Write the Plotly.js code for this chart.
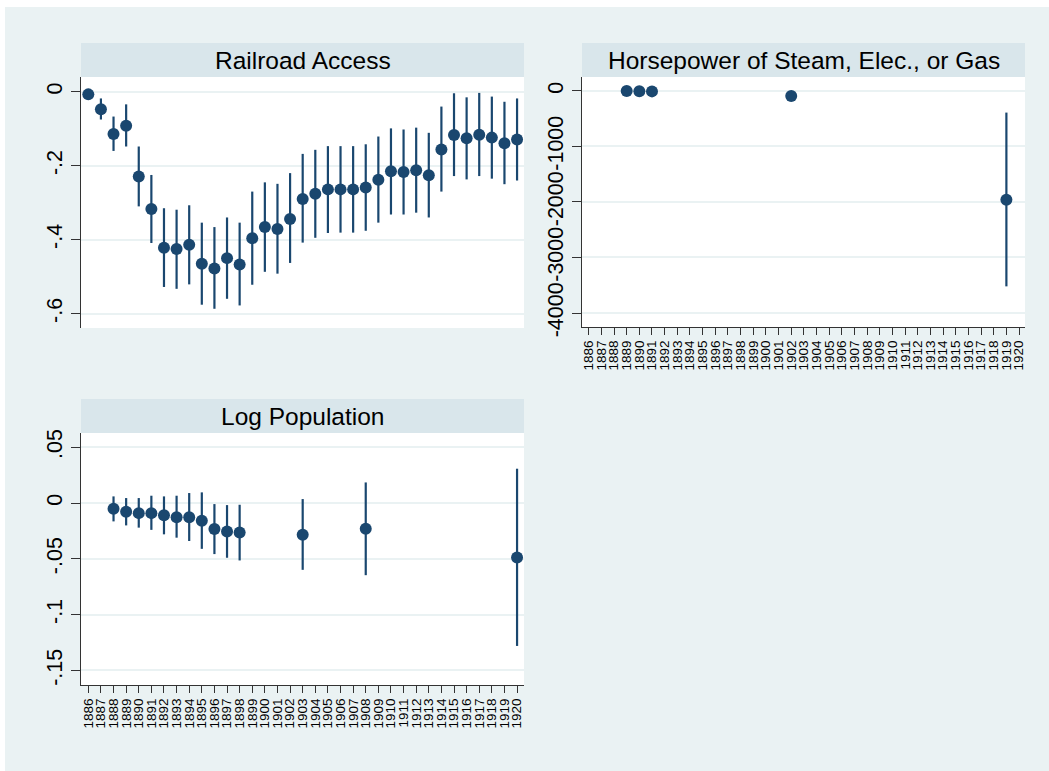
<!DOCTYPE html>
<html>
<head>
<meta charset="utf-8">
<script src="https://cdn.plot.ly/plotly-3.0.1.min.js"></script>
<style>
  html, body { margin: 0; padding: 0; background: #ffffff; }
  #chart { position: absolute; left: 5px; top: 7px; width: 1044px; height: 764px; }
</style>
</head>
<body>
<div id="chart"></div>
<script>
// ---- Data ----
const years = [1886,1887,1888,1889,1890,1891,1892,1893,1894,1895,1896,1897,1898,1899,1900,1901,1902,1903,1904,1905,1906,1907,1908,1909,1910,1911,1912,1913,1914,1915,1916,1917,1918,1919,1920];
const yearLabels = years.map(String);

// Railroad Access
const railYears = years;
const railCoef = [-0.007,-0.047,-0.114,-0.092,-0.229,-0.317,-0.422,-0.425,-0.414,-0.465,-0.478,-0.450,-0.467,-0.396,-0.366,-0.371,-0.344,-0.290,-0.276,-0.264,-0.264,-0.264,-0.259,-0.238,-0.215,-0.217,-0.212,-0.226,-0.156,-0.117,-0.126,-0.116,-0.124,-0.139,-0.129];
const railLo   = [-0.012,-0.075,-0.160,-0.148,-0.310,-0.409,-0.528,-0.533,-0.521,-0.576,-0.587,-0.560,-0.578,-0.522,-0.487,-0.492,-0.463,-0.408,-0.395,-0.382,-0.381,-0.381,-0.376,-0.354,-0.332,-0.332,-0.327,-0.340,-0.270,-0.228,-0.237,-0.228,-0.235,-0.250,-0.240];
const railHi   = [-0.002,-0.018,-0.067,-0.034,-0.148,-0.225,-0.315,-0.319,-0.307,-0.354,-0.366,-0.340,-0.354,-0.270,-0.245,-0.249,-0.220,-0.168,-0.157,-0.147,-0.147,-0.147,-0.142,-0.121,-0.099,-0.102,-0.097,-0.111,-0.040,-0.004,-0.015,-0.003,-0.013,-0.027,-0.018];

// Horsepower of Steam, Elec., or Gas
const hpYears = [1889,1890,1891,1902,1919];
const hpCoef  = [0, -5, -8, -90, -1961];
const hpLo    = [-25, -30, -33, -115, -3520];
const hpHi    = [25, 20, 17, -65, -390];

// Log Population
const popYears = [1888,1889,1890,1891,1892,1893,1894,1895,1896,1897,1898,1903,1908,1920];
const popCoef  = [-0.0051,-0.0078,-0.0090,-0.0090,-0.0110,-0.0126,-0.0126,-0.0158,-0.0233,-0.0254,-0.0263,-0.0284,-0.0230,-0.0487];
const popLo    = [-0.0164,-0.0200,-0.0220,-0.0240,-0.0280,-0.0310,-0.0340,-0.0410,-0.0457,-0.0490,-0.0514,-0.0598,-0.0646,-0.1280];
const popHi    = [0.0060,0.0045,0.0045,0.0066,0.0060,0.0066,0.0090,0.0096,-0.0009,-0.0018,-0.0015,0.0036,0.0185,0.0308];

// Tick labels
const railTickVals = [0,-0.2,-0.4,-0.6];
const railTickText = ['0','-.2','-.4','-.6'];
const hpTickVals = [0,-1000,-2000,-3000,-4000];
const hpTickText = ['0','-1000','-2000','-3000','-4000'];
const popTickVals = [0.05,0,-0.05,-0.1,-0.15];
const popTickText = ['.05','0','-.05','-.1','-.15'];

const titles = ['Railroad Access', 'Horsepower of Steam, Elec., or Gas', 'Log Population'];

// ---- Styling ----
const navy = '#1a476f';
const bgLight = '#eaf2f3';
const strip = '#d9e6eb';
const FONT = 'Liberation Sans, Arial, Helvetica, sans-serif';

function trace(x, c, lo, hi, xa, ya) {
  return {
    type: 'scatter', mode: 'markers', x: x, y: c,
    xaxis: xa, yaxis: ya,
    marker: { color: navy, size: 12, line: { width: 0 } },
    error_y: {
      type: 'data', symmetric: false,
      array: hi.map((h, i) => h - c[i]),
      arrayminus: lo.map((l, i) => c[i] - l),
      width: 0, thickness: 2.2, color: navy
    },
    hoverinfo: 'x+y', showlegend: false, cliponaxis: false
  };
}

const data = [
  trace(railYears, railCoef, railLo, railHi, 'x', 'y'),
  trace(hpYears, hpCoef, hpLo, hpHi, 'x2', 'y2'),
  trace(popYears, popCoef, popLo, popHi, 'x3', 'y3')
];

const W = 1044, H = 764;
const px = v => v / W;
const py = v => 1 - v / H;

// pixel boxes (relative to chart div)
const dom = {
  p1: { x: [px(76), px(519)], y: [py(321), py(70)], strip: [py(70), py(36)] },
  p2: { x: [px(577), px(1020)], y: [py(320), py(70)], strip: [py(70), py(36)] },
  p3: { x: [px(76), px(519)], y: [py(678), py(426)], strip: [py(426), py(392)] }
};

function yaxis(domain, range, vals, text, anchor) {
  return {
    domain: domain, range: range, anchor: anchor,
    tickmode: 'array', tickvals: vals, ticktext: text, tickangle: -90,
    tickfont: { family: FONT, size: 21.5, color: '#000' },
    ticks: 'outside', ticklen: 9, tickwidth: 1, tickcolor: '#333',
    showline: true, linecolor: '#333', linewidth: 1,
    showgrid: true, gridcolor: bgLight, gridwidth: 2,
    zeroline: false, fixedrange: true
  };
}
function xaxis(domain, range, show, anchor) {
  const a = {
    domain: domain, range: range, anchor: anchor, zeroline: false, showgrid: false, fixedrange: true
  };
  if (show) {
    Object.assign(a, {
      tickmode: 'array', tickvals: years, ticktext: yearLabels, tickangle: -90,
      tickfont: { family: FONT, size: 13.5, color: '#000' },
      ticks: 'outside', ticklen: 7, tickwidth: 1, tickcolor: '#333',
      showline: true, linecolor: '#333', linewidth: 1
    });
  } else {
    Object.assign(a, { showticklabels: false, ticks: '', showline: false });
  }
  return a;
}

const xr = [1885.42, 1920.55];
const layout = {
  width: W, height: H,
  margin: { l: 0, r: 0, t: 0, b: 0, pad: 0 },
  paper_bgcolor: bgLight, plot_bgcolor: '#ffffff',
  font: { family: FONT, color: '#000' },
  showlegend: false,
  xaxis: xaxis(dom.p1.x, xr, false, 'y'),
  yaxis: yaxis(dom.p1.y, [-0.639, 0.04], railTickVals, railTickText, 'x'),
  xaxis2: xaxis(dom.p2.x, [1885.47, 1920.47], true, 'y2'),
  yaxis2: yaxis(dom.p2.y, [-4252, 251], hpTickVals, hpTickText, 'x2'),
  xaxis3: xaxis(dom.p3.x, xr, true, 'y3'),
  yaxis3: yaxis(dom.p3.y, [-0.163, 0.0628], popTickVals, popTickText, 'x3'),
  shapes: [],
  annotations: []
};

[dom.p1, dom.p2, dom.p3].forEach((d, i) => {
  layout.shapes.push({
    type: 'rect', xref: 'paper', yref: 'paper',
    x0: d.x[0], x1: d.x[1], y0: d.strip[0], y1: d.strip[1],
    fillcolor: strip, line: { width: 0 }, layer: 'above'
  });
  layout.annotations.push({
    xref: 'paper', yref: 'paper',
    x: (d.x[0] + d.x[1]) / 2, y: (d.strip[0] + d.strip[1]) / 2,
    xanchor: 'center', yanchor: 'middle', showarrow: false,
    text: titles[i], font: { family: FONT, size: 24.5, color: '#000' }
  });
});

Plotly.newPlot('chart', data, layout, { staticPlot: true, displayModeBar: false });
</script>
</body>
</html>
